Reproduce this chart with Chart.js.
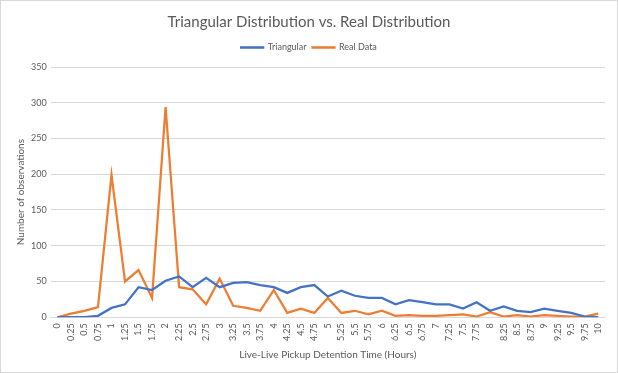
<!DOCTYPE html>
<html>
<head>
<meta charset="utf-8">
<script src="https://cdn.jsdelivr.net/npm/chart.js@4/dist/chart.umd.min.js"></script>
<style>
  html, body { margin: 0; padding: 0; background: #ffffff; }
  #wrap { position: relative; width: 618px; height: 373px; box-sizing: border-box; border: 1px solid #d9d9d9; }
  #chart { display: block; }
</style>
</head>
<body>
<div id="wrap"><canvas id="chart" width="616" height="371"></canvas></div>
<script>
const hours = ['0','0.25','0.5','0.75','1','1.25','1.5','1.75','2','2.25','2.5','2.75','3','3.25','3.5','3.75','4','4.25','4.5','4.75','5','5.25','5.5','5.75','6','6.25','6.5','6.75','7','7.25','7.5','7.75','8','8.25','8.5','8.75','9','9.25','9.5','9.75','10'];
const triangular = [0,0,0,2,13,18,42,38,51,57,42,55,42,48,49,45,42,34,42,45,29,37,30,27,27,18,24,21,18,18,12,21,9,15,9,7,12,9,6,1,0];
const realData = [0,5,9,14,199,50,66,27,294,42,39,18,54,16,13,9,38,6,12,6,27,6,9,4,9,2,3,2,2,3,4,1,7,1,3,1,3,2,1,1,5];

const textColor = '#595959';
const font = 'Lato, "Open Sans", sans-serif';

// extra room under the legend, like the original
const legendGap = {
    id: 'legendGap',
    beforeInit(chart) {
        const fit = chart.legend.fit;
        chart.legend.fit = function () {
            fit.bind(chart.legend)();
            this.height += 5;
        };
    }
};

new Chart(document.querySelector('#chart'), {
    type: 'line',
    data: {
        labels: hours,
        datasets: [
            {
                label: 'Triangular',
                data: triangular,
                borderColor: '#4472C4',
                backgroundColor: '#4472C4',
                borderWidth: 2.25,
                pointRadius: 0,
                tension: 0
            },
            {
                label: 'Real Data',
                data: realData,
                borderColor: '#ED7D31',
                backgroundColor: '#ED7D31',
                borderWidth: 2.25,
                pointRadius: 0,
                tension: 0
            }
        ]
    },
    options: {
        responsive: false,
        animation: false,
        devicePixelRatio: 1,
        layout: { padding: { left: 12, right: 12, top: 8, bottom: 11 } },
        plugins: {
            title: {
                display: true,
                text: 'Triangular Distribution vs. Real Distribution',
                color: textColor,
                font: { family: font, size: 15, weight: 'normal' },
                padding: { top: 4, bottom: 6 }
            },
            legend: {
                labels: {
                    color: textColor,
                    font: { family: font, size: 9 },
                    boxWidth: 22,
                    boxHeight: 0.3,
                    padding: 6
                }
            },
            tooltip: { enabled: false }
        },
        scales: {
            x: {
                offset: true,
                grid: { display: false, drawTicks: false },
                border: { color: '#d9d9d9' },
                ticks: {
                    color: textColor,
                    font: { family: font, size: 9 },
                    minRotation: 90,
                    maxRotation: 90,
                    autoSkip: false,
                    padding: 6
                },
                title: {
                    display: true,
                    text: 'Live-Live Pickup Detention Time (Hours)',
                    color: textColor,
                    font: { family: font, size: 10 },
                    padding: { top: 2, bottom: 0 }
                }
            },
            y: {
                min: 0,
                max: 350,
                ticks: {
                    stepSize: 50,
                    color: textColor,
                    font: { family: font, size: 9 },
                    padding: 4
                },
                grid: { color: '#d9d9d9', drawTicks: false },
                border: { display: false },
                title: {
                    display: true,
                    text: 'Number of observations',
                    color: textColor,
                    font: { family: font, size: 10 },
                    padding: { top: 2, bottom: 0 }
                }
            }
        }
    },
    plugins: [legendGap]
});
</script>
</body>
</html>
